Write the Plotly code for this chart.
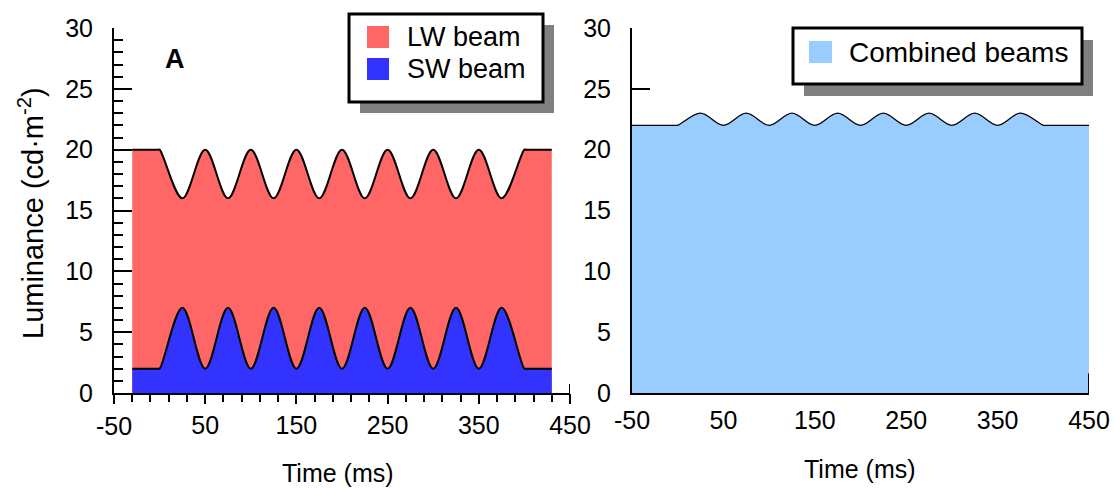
import plotly.graph_objects as go

# ---- data ----
lw_time = [-30, -2, 0, 25, 50, 75, 100, 125, 150, 175, 200, 225, 250, 275, 300, 325, 350, 375, 400, 402, 430]
lw_lum = [20, 20, 20, 16, 20, 16, 20, 16, 20, 16, 20, 16, 20, 16, 20, 16, 20, 16, 20, 20, 20]
sw_lum = [2, 2, 2, 7, 2, 7, 2, 7, 2, 7, 2, 7, 2, 7, 2, 7, 2, 7, 2, 2, 2]
comb_time = [-50, -2, 0, 25, 50, 75, 100, 125, 150, 175, 200, 225, 250, 275, 300, 325, 350, 375, 400, 402, 450]
comb_lum = [22, 22, 22, 23, 22, 23, 22, 23, 22, 23, 22, 23, 22, 23, 22, 23, 22, 23, 22, 22, 22]
x_ticks = [-50, 50, 150, 250, 350, 450]
y_ticks = [0, 5, 10, 15, 20, 25, 30]
x_minor = list(range(-50, 451, 20))
y_minor = list(range(0, 31, 1))

W, H = 1114, 489
FONT = "Liberation Sans, Arial, Helvetica, sans-serif"
RED, BLUE, LBLUE = "#FF6666", "#3333FF", "#99CCFF"


def px(x):
    return x / W


def py(y):
    return 1 - y / H


def curve(x, y, color, width, xa, ya, name):
    return go.Scatter(x=x, y=y, name=name, mode="lines",
                      line=dict(color="black", width=width, shape="spline", smoothing=1, simplify=False),
                      fill="tozeroy", fillcolor=color, xaxis=xa, yaxis=ya, showlegend=False,
                      hoverinfo="x+y")


fig = go.Figure()
fig.add_trace(curve(lw_time, lw_lum, RED, 2, "x", "y", "LW beam"))
fig.add_trace(curve(lw_time, sw_lum, BLUE, 2, "x", "y", "SW beam"))
fig.add_trace(curve(comb_time, comb_lum, LBLUE, 1.3, "x2", "y2", "Combined beams"))
fig.add_trace(go.Scatter(x=[None], y=[None], xaxis="x3", yaxis="y3", showlegend=False,
                         mode="lines", hoverinfo="skip"))

tickfont = dict(family=FONT, size=25, color="black")
ydom = [py(393), py(28)]
xdom1 = [px(114), px(570)]

common_x = dict(range=[-50, 450], tickvals=x_ticks,
                showline=True, linecolor="black", linewidth=2, showgrid=False, zeroline=False,
                tickfont=tickfont, ticks="outside", tickwidth=2, tickcolor="black",
                automargin=False, ticklabelstandoff=0)
common_y = dict(range=[0, 30], tickvals=y_ticks, showline=True, linecolor="black", linewidth=2,
                showgrid=False, zeroline=False, tickfont=tickfont, ticks="inside", ticklen=18,
                tickwidth=2, tickcolor="black", automargin=False, ticklabelstandoff=14, domain=ydom)

# the first label of the left axis is placed as text at its tick (plotly nudges it otherwise)
left_ticktext = [""] + [str(v) for v in x_ticks[1:]]

fig.update_layout(
    width=W, height=H, autosize=False,
    margin=dict(l=0, r=0, t=0, b=0),
    paper_bgcolor="white", plot_bgcolor="white",
    showlegend=False,
    xaxis=dict(domain=xdom1, anchor="y", ticklen=9, ticktext=left_ticktext, **common_x),
    yaxis=dict(anchor="x", **common_y),
    xaxis2=dict(domain=[px(632), px(1089)], anchor="y2", ticklen=4,
                ticktext=[str(v) for v in x_ticks],
                **{**common_x, "tickcolor": "rgba(0,0,0,0)"}),
    yaxis2=dict(anchor="x2", layer="below traces", **common_y),
    xaxis3=dict(overlaying="x", anchor="y", range=[-50, 450], tickvals=x_minor, ticks="outside",
                ticklen=8, tickwidth=2, tickcolor="black", showticklabels=False, showline=False,
                showgrid=False, zeroline=False, automargin=False),
    yaxis3=dict(overlaying="y", anchor="x", side="left", range=[0, 30], tickvals=y_minor,
                ticks="inside", ticklen=9, tickwidth=2, tickcolor="black", showticklabels=False,
                showline=False, showgrid=False, zeroline=False, automargin=False),
)

shapes = []
shapes.append(dict(type="line", xref="x", yref="y", x0=450, x1=450, y0=-9, y1=9,
                   ysizemode="pixel", yanchor=0, line=dict(color="black", width=2)))
shapes.append(dict(type="line", xref="x2", yref="y2", x0=450, x1=450, y0=0, y1=1.6,
                   line=dict(color="black", width=2)))


def legend_box(x0, y0, x1, y1, dx, dy):
    shapes.append(dict(type="rect", xref="paper", yref="paper", x0=px(x0 + dx), x1=px(x1 + dx),
                       y0=py(y1 + dy), y1=py(y0 + dy), fillcolor="#808080", line=dict(width=0)))
    shapes.append(dict(type="rect", xref="paper", yref="paper", x0=px(x0), x1=px(x1),
                       y0=py(y1), y1=py(y0), fillcolor="white", line=dict(color="black", width=3)))


def swatch(x0, y0, x1, y1, color):
    shapes.append(dict(type="rect", xref="paper", yref="paper", x0=px(x0), x1=px(x1),
                       y0=py(y1), y1=py(y0), fillcolor=color, line=dict(width=0)))


legend_box(349, 14, 543, 102, 11, 11)
swatch(367, 26, 389, 48, RED)
swatch(367, 58, 389, 80, BLUE)
legend_box(793, 28, 1082, 84, 11, 12)
swatch(809, 41, 832, 63, LBLUE)
fig.update_layout(shapes=shapes)

ann = []


def text(s, x, y, size, xanchor="center", bold=False, angle=0):
    ann.append(dict(text=("<b>%s</b>" % s) if bold else s, x=px(x), y=py(y), xref="paper", yref="paper",
                    xanchor=xanchor, yanchor="middle", showarrow=False, textangle=angle,
                    font=dict(family=FONT, size=size, color="black")))


text("LW beam", 405, 37, 27, xanchor="left")
text("SW beam", 405, 69, 27, xanchor="left")
text("Combined beams", 847, 52, 28, xanchor="left")
text("A", 175, 59, 27, bold=True)
text("Time (ms)", 338, 473, 25)
text("Time (ms)", 860, 469, 25)
text("Luminance (cd·m<sup>-2</sup>)", 31, 213, 29, angle=-90)
# first tick label of the left time axis, at x = -50
ann.append(dict(text=str(x_ticks[0]), x=x_ticks[0], y=py(426), xref="x", yref="paper",
                xanchor="center", yanchor="middle", showarrow=False, font=tickfont))
fig.update_layout(annotations=ann)

fig.write_html("out.html")
